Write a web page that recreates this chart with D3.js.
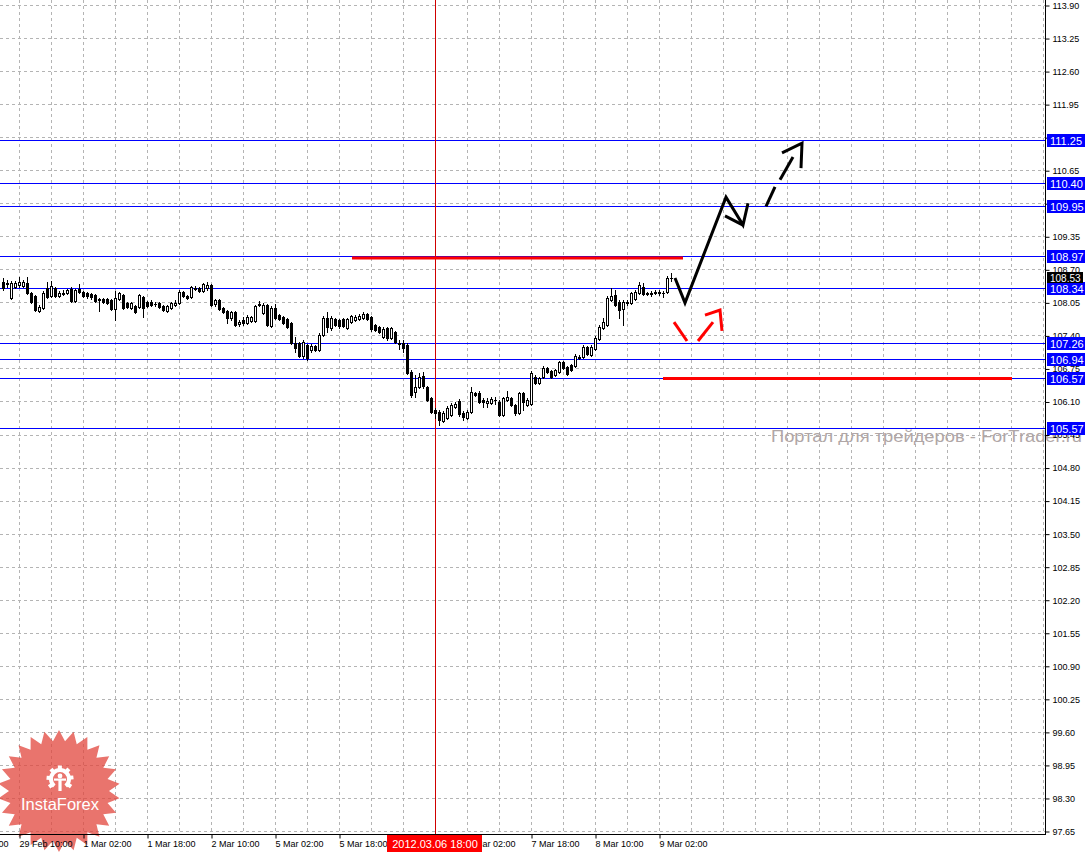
<!DOCTYPE html>
<html><head><meta charset="utf-8">
<script src="https://cdn.jsdelivr.net/npm/d3@7"></script>
<style>body{margin:0;background:#fff;} svg{display:block;}</style>
</head><body>
<svg id="c" width="1087" height="852"></svg>
<script>
// ---- data (H1 bars, index 0 = first visible bar) ----
const barOpen = [108.45,108.43,108.14,108.35,108.39,108.37,108.43,108.23,108.17,107.88,
107.94,108.33,108.17,108.33,108.17,108.23,108.23,108.31,108.08,108.31,
108.25,108.23,108.21,108.19,108.12,108.12,108.12,108.10,107.92,108.12,
108.19,108.04,107.94,107.98,107.96,108.16,108.06,108.06,108.02,108.04,
107.98,107.88,107.94,108.00,108.04,108.25,108.17,108.16,108.33,108.33,
108.27,108.33,108.39,108.02,108.10,107.94,107.88,107.74,107.86,107.62,
107.70,107.64,107.68,107.68,108.00,107.84,108.00,107.58,107.94,107.80,
107.76,107.72,107.64,107.25,107.25,107.00,107.21,107.11,107.19,107.11,
107.41,107.74,107.54,107.72,107.70,107.72,107.54,107.66,107.70,107.72,
107.74,107.82,107.76,107.60,107.56,107.37,107.55,107.35,107.47,107.25,
107.25,107.21,106.68,106.29,106.39,106.60,106.39,106.17,105.93,105.89,
105.72,105.78,105.83,105.99,106.11,105.87,105.78,105.89,106.27,106.27,
106.13,106.07,106.07,106.13,106.09,105.83,106.13,106.17,106.03,105.87,
106.27,106.03,106.05,106.58,106.46,106.58,106.76,106.70,106.62,106.68,
106.88,106.78,106.82,106.80,106.97,106.97,107.17,107.01,107.13,107.33,
107.55,107.60,108.10,108.19,108.06,107.92,108.04,108.04,108.12,108.23,
108.35,108.23,108.23,108.25,108.25,108.23,108.25,108.53];
const barHigh = [108.53,108.49,108.47,108.47,108.55,108.49,108.55,108.25,108.19,108.00,
108.27,108.45,108.47,108.35,108.27,108.29,108.31,108.35,108.31,108.41,
108.27,108.25,108.23,108.21,108.14,108.14,108.14,108.12,108.27,108.25,
108.21,108.06,108.06,108.00,108.21,108.17,108.08,108.10,108.06,108.06,
108.00,108.00,108.06,108.10,108.29,108.27,108.19,108.37,108.37,108.35,
108.43,108.45,108.41,108.12,108.12,107.96,107.90,107.88,107.88,107.70,
107.76,107.80,107.78,108.00,108.08,108.04,108.02,107.98,108.02,107.82,
107.78,107.74,107.66,107.37,107.27,107.31,107.23,107.23,107.21,107.45,
107.78,107.86,107.78,107.74,107.72,107.74,107.74,107.80,107.80,107.82,
107.86,107.84,107.78,107.62,107.58,107.56,107.56,107.56,107.49,107.31,
107.31,107.25,106.72,106.62,106.66,106.68,106.41,106.19,105.97,105.93,
105.91,106.01,106.07,106.09,106.15,105.91,105.93,106.38,106.29,106.31,
106.17,106.17,106.19,106.19,106.13,106.19,106.31,106.19,106.05,106.29,
106.29,106.17,106.70,106.62,106.58,106.80,106.78,106.72,106.74,106.90,
106.90,106.80,106.84,107.03,107.01,107.21,107.19,107.21,107.39,107.60,
107.74,108.18,108.33,108.29,108.10,108.10,108.10,108.25,108.29,108.45,
108.43,108.25,108.27,108.29,108.29,108.27,108.57,108.63];
const barLow = [108.29,108.35,108.12,108.33,108.35,108.35,108.21,108.04,107.88,107.86,
107.92,108.14,108.16,108.16,108.16,108.19,108.21,108.06,108.06,108.23,
108.16,108.14,108.12,108.06,107.88,108.04,108.02,107.90,107.70,108.10,
107.92,107.94,107.92,107.84,107.94,107.76,107.96,107.98,107.98,107.94,
107.88,107.86,107.92,107.98,108.02,108.16,108.12,108.14,108.29,108.25,
108.25,108.29,107.98,107.98,107.90,107.84,107.64,107.70,107.58,107.58,
107.60,107.62,107.66,107.66,107.98,107.82,107.58,107.56,107.72,107.70,
107.62,107.54,107.23,107.07,106.98,106.96,106.92,107.07,107.09,107.09,
107.39,107.47,107.51,107.58,107.54,107.56,107.53,107.64,107.68,107.70,
107.72,107.70,107.49,107.49,107.45,107.35,107.31,107.33,107.25,107.13,
107.07,106.64,106.19,106.19,106.37,106.37,106.11,105.87,105.78,105.64,
105.70,105.76,105.81,105.97,105.81,105.74,105.76,105.87,106.21,106.07,
105.99,105.99,106.05,106.05,105.81,105.81,106.11,106.01,105.83,105.85,
105.93,106.01,106.03,106.44,106.44,106.56,106.66,106.56,106.60,106.66,
106.74,106.62,106.70,106.78,106.94,106.96,107.01,106.99,107.11,107.31,
107.53,107.58,108.08,107.98,107.74,107.60,108.00,108.02,108.10,108.21,
108.19,108.19,108.17,108.21,108.19,108.16,108.23,108.47];
const barClose = [108.33,108.41,108.43,108.43,108.45,108.45,108.23,108.06,107.90,107.96,
108.23,108.16,108.37,108.17,108.23,108.22,108.29,108.08,108.29,108.25,
108.17,108.17,108.16,108.08,108.10,108.06,108.04,107.92,108.14,108.23,
107.94,107.96,108.04,107.86,108.19,107.94,107.98,108.00,108.01,107.96,
107.90,107.98,108.04,108.04,108.25,108.17,108.14,108.35,108.32,108.27,
108.41,108.39,108.00,108.10,107.92,107.86,107.74,107.86,107.60,107.66,
107.64,107.76,107.76,107.98,108.02,108.00,107.60,107.94,107.74,107.72,
107.64,107.56,107.25,107.15,107.00,107.27,106.96,107.19,107.11,107.41,
107.74,107.56,107.74,107.60,107.58,107.58,107.72,107.78,107.76,107.78,
107.82,107.72,107.53,107.51,107.47,107.53,107.35,107.55,107.27,107.24,
107.15,106.66,106.23,106.39,106.58,106.41,106.13,105.89,105.87,105.74,
105.87,105.97,106.03,106.05,105.85,105.80,105.89,106.29,106.23,106.09,
106.09,106.11,106.15,106.12,105.83,106.17,106.19,106.03,105.87,106.27,
106.09,106.13,106.66,106.46,106.56,106.76,106.68,106.58,106.72,106.88,
106.76,106.64,106.72,106.99,106.96,107.17,107.03,107.17,107.35,107.56,
107.66,108.14,108.17,108.00,107.90,108.06,108.06,108.23,108.25,108.39,
108.21,108.21,108.22,108.24,108.24,108.24,108.53,108.53];

const priceTicks = [97.65,98.30,98.95,99.60,100.25,100.90,101.55,102.20,102.85,103.50,104.15,104.80,105.45,
  106.10,106.75,107.40,108.05,108.70,109.35,110.00,110.65,111.30,111.95,112.60,113.25,113.90];
const timeTickIndex = [-12,4,20,36,52,68,84,100,116,132,148,164];
const timeTickLabels = ["28 Feb 18:00","29 Feb 10:00","1 Mar 02:00","1 Mar 18:00","2 Mar 10:00","5 Mar 02:00",
  "5 Mar 18:00","6 Mar 10:00","7 Mar 02:00","7 Mar 18:00","8 Mar 10:00","9 Mar 02:00"];
const levelPrices = [111.25,110.40,109.95,108.97,108.34,107.26,106.94,106.57,105.57];
const lastPrice = 108.53;
const cursorIndex = 108;
const cursorLabel = "2012.03.06 18:00";
// red horizontal segments: [fromIndex, toIndex, price]
const redSegments = [[87.25,170,108.94],[165,252.25,106.57]];
// black forecast (solid)
const forecastSolid = [[168,108.53],[170.5,108.04],[180.75,110.12],[185,109.57],[186.25,110.00]];
const forecastSolid2 = [[180.5,109.75],[185,109.57]];
// black forecast (dashed pieces)
const forecastDash = [[[190.75,109.94],[193,110.32]],[[194.25,110.46],[197.5,110.91]],
  [[194.75,110.99],[199.75,111.18],[199.5,110.69]]];
// red scenario arrows
const redArrows = [[[167.75,107.66],[171,107.29]],[[173.75,107.29],[177.5,107.66]],
  [[175.5,107.80],[179.25,107.90],[179.75,107.49]]];
const watermark = "Портал для трейдеров - ForTrader.ru";
const logoText = "InstaForex";

// ---- layout ----
const W = 1087, H = 852, plotR = 1045, plotB = 834;
const svg = d3.select("#c");
svg.append("rect").attr("width",W).attr("height",H).attr("fill","#fff");

const x = d3.scaleLinear().domain([0,167]).range([3,671]);
const y = d3.scaleLinear().domain([97.65,113.90]).range([831,5]);
const px = v => Math.round(x(v));
const py = v => Math.round(y(v));

const plot = svg.append("g");
// grid
const gridCol = "#b4b4b4";
plot.selectAll("line.hg").data(priceTicks).join("line")
  .attr("x1",0).attr("x2",plotR).attr("y1",d=>py(d)+0.5).attr("y2",d=>py(d)+0.5)
  .attr("stroke",gridCol).attr("stroke-dasharray","3,3");
const vGrid = d3.range(4, 261, 8);
plot.selectAll("line.vg").data(vGrid).join("line")
  .attr("x1",d=>px(d)+0.5).attr("x2",d=>px(d)+0.5).attr("y1",0).attr("y2",plotB)
  .attr("stroke",gridCol).attr("stroke-dasharray","3,3");

// level lines
plot.selectAll("line.lv").data(levelPrices).join("line")
  .attr("x1",0).attr("x2",plotR).attr("y1",d=>py(d)+0.5).attr("y2",d=>py(d)+0.5)
  .attr("stroke","#0000ff").attr("stroke-width",1);

// cursor line
plot.append("line").attr("x1",px(cursorIndex)+0.5).attr("x2",px(cursorIndex)+0.5)
  .attr("y1",0).attr("y2",plotB).attr("stroke","#d00000").attr("stroke-width",1);

// logo
const logo = svg.append("g").attr("transform","translate(59,791)");
const N = 26;
const starPts = d3.range(2*N).map(k => [k*Math.PI/N, k%2 ? 50 : 61]);
logo.append("path").attr("d", d3.lineRadial().curve(d3.curveLinearClosed)(starPts))
  .attr("fill","#e2463c").attr("opacity",0.75);
const gear = logo.append("g").attr("transform","translate(1,-12)").attr("fill","#fff");
gear.append("path").attr("d", d3.arc().innerRadius(7).outerRadius(11).startAngle(-2.45).endAngle(2.45)());
d3.range(-2.2, 2.3, 0.73).forEach(a => {
  gear.append("rect").attr("x",-2).attr("y",-13.5).attr("width",4).attr("height",4)
    .attr("transform",`rotate(${a*180/Math.PI})`);
});
gear.append("circle").attr("cx",0).attr("cy",-3).attr("r",2.4);
gear.append("rect").attr("x",-1.6).attr("y",0).attr("width",3.2).attr("height",12);
gear.append("rect").attr("x",-6).attr("y",-0.5).attr("width",12).attr("height",2.2);
logo.append("text").attr("x",1).attr("y",19).attr("text-anchor","middle")
  .attr("font-family","Liberation Sans, Arial, sans-serif").attr("font-size",16.5)
  .attr("fill","#fff").text(logoText);

// candles
const bars = barOpen.map((o,i)=>({i,o,h:barHigh[i],l:barLow[i],c:barClose[i]}));
const cg = plot.append("g");
cg.selectAll("line.wick").data(bars).join("line")
  .attr("x1",d=>px(d.i)+0.5).attr("x2",d=>px(d.i)+0.5)
  .attr("y1",d=>py(d.h)).attr("y2",d=>py(d.l)+1).attr("stroke","#000");
cg.selectAll("rect.body").data(bars).join("rect")
  .each(function(d){
    const top = py(Math.max(d.o,d.c)), bot = py(Math.min(d.o,d.c));
    const s = d3.select(this);
    if (d.c > d.o && bot-top >= 2) {
      s.attr("x",px(d.i)-1+0.5).attr("y",top+0.5).attr("width",2).attr("height",bot-top)
       .attr("fill","#fff").attr("stroke","#000");
    } else {
      s.attr("x",px(d.i)-1).attr("y",top).attr("width",3).attr("height",Math.max(1,bot-top+1))
       .attr("fill","#000");
    }
  });

// red horizontal segments
plot.selectAll("line.rs").data(redSegments).join("line")
  .attr("x1",d=>x(d[0])).attr("x2",d=>x(d[1])).attr("y1",d=>y(d[2])+1).attr("y2",d=>y(d[2])+1)
  .attr("stroke","#ff0000").attr("stroke-width",3);

const ln = d3.line().x(d=>x(d[0])).y(d=>y(d[1]));
plot.append("path").attr("d",ln(forecastSolid)).attr("fill","none").attr("stroke","#000")
  .attr("stroke-width",3).attr("stroke-linejoin","miter");
plot.append("path").attr("d",ln(forecastSolid2)).attr("fill","none").attr("stroke","#000").attr("stroke-width",3);
forecastDash.forEach(seg => plot.append("path").attr("d",ln(seg)).attr("fill","none")
  .attr("stroke","#000").attr("stroke-width",3));
redArrows.forEach(seg => plot.append("path").attr("d",ln(seg)).attr("fill","none")
  .attr("stroke","#ff0000").attr("stroke-width",3));

// watermark
svg.append("text").attr("x",771).attr("y",442).attr("font-family","Liberation Sans, Arial, sans-serif")
  .attr("font-size",16).attr("fill","#b0a6a6").attr("textLength",311).attr("lengthAdjust","spacingAndGlyphs")
  .text(watermark);

// axes
const fontFam = "Liberation Sans, Arial, sans-serif";
// tick labels that sit under a level box are hidden (as in the terminal)
const hiddenByBox = t => levelPrices.some(p => Math.abs(y(t) - y(p)) < 6);
const yAxis = d3.axisRight(y).tickValues(priceTicks).tickSize(4).tickPadding(3)
  .tickFormat(t => hiddenByBox(t) ? "" : d3.format(".2f")(t));
const ya = svg.append("g").attr("transform",`translate(${plotR+0.5},0.5)`).call(yAxis);
ya.select(".domain").remove();
ya.selectAll("text").attr("font-family",fontFam).attr("font-size",9).attr("fill","#000");
ya.selectAll("line").attr("stroke","#000");

const cxl = px(cursorIndex);
const hiddenByCursor = i => { const tx = x(i); return tx > cxl - 48 && tx + 50 < cxl + 47; };
const xAxis = d3.axisBottom(x).tickValues(timeTickIndex).tickSize(4).tickPadding(2)
  .tickFormat((d,i)=> hiddenByCursor(d) ? "" : timeTickLabels[i]);
const xa = svg.append("g").attr("transform",`translate(0.5,${plotB+0.5})`).call(xAxis);
xa.select(".domain").remove();
xa.selectAll("text").attr("font-family",fontFam).attr("font-size",9).attr("fill","#000")
  .attr("text-anchor","start").attr("dx",-0.5);
xa.selectAll("line").attr("stroke","#000");

svg.append("line").attr("x1",plotR+0.5).attr("x2",plotR+0.5).attr("y1",0).attr("y2",plotB+1).attr("stroke","#000");
svg.append("line").attr("x1",0).attr("x2",plotR+1).attr("y1",plotB+0.5).attr("y2",plotB+0.5).attr("stroke","#000");

// level labels
const lb = svg.append("g");
levelPrices.forEach(p => {
  const yy = py(p);
  lb.append("rect").attr("x",plotR+2).attr("y",yy-6).attr("width",38).attr("height",13).attr("fill","#0000ff");
  lb.append("text").attr("x",plotR+5).attr("y",yy+4.5).attr("font-family",fontFam).attr("font-size",11)
    .attr("fill","#fff").text(d3.format(".2f")(p));
});
const ly = py(lastPrice);
lb.append("rect").attr("x",plotR+2).attr("y",ly-6).attr("width",36).attr("height",11).attr("fill","#000");
lb.append("text").attr("x",plotR+5).attr("y",ly+3.5).attr("font-family",fontFam).attr("font-size",10)
  .attr("fill","#fff").text(d3.format(".2f")(lastPrice));

// cursor label
svg.append("rect").attr("x",cxl-48).attr("y",plotB+1).attr("width",95).attr("height",H-plotB-1).attr("fill","#ff0000");
svg.append("text").attr("x",cxl).attr("y",848).attr("text-anchor","middle").attr("font-family",fontFam)
  .attr("font-size",11).attr("fill","#fff").text(cursorLabel);
</script>
</body></html>
